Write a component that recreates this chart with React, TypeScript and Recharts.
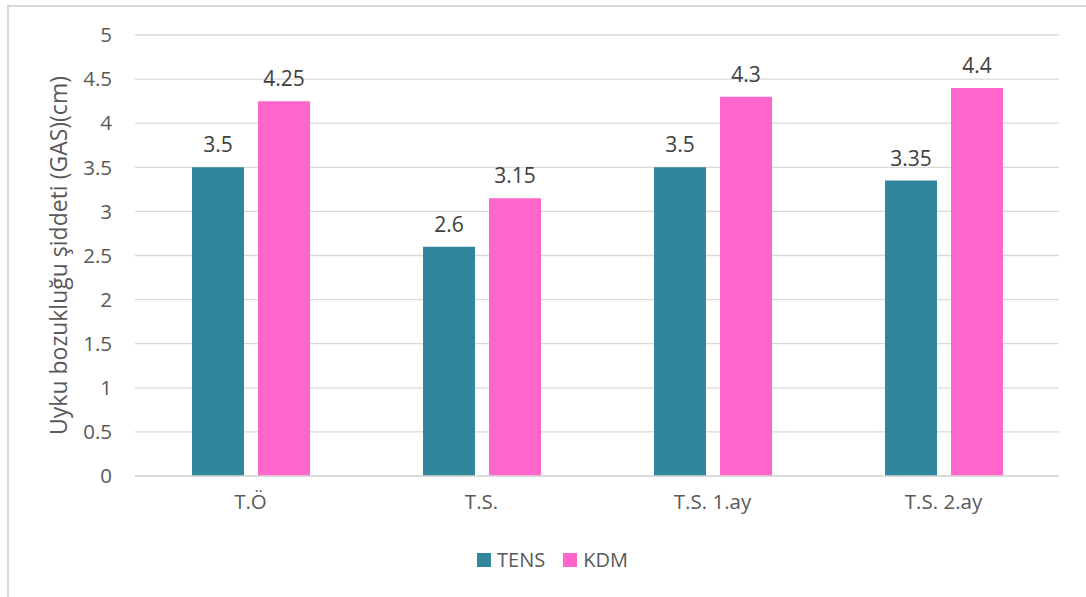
import { Bar, BarChart, CartesianGrid, LabelList, XAxis, YAxis } from 'recharts'

const categories = ['T.Ö', 'T.S.', 'T.S. 1.ay', 'T.S. 2.ay']
const tensValues = [3.5, 2.6, 3.5, 3.35]
const kdmValues = [4.25, 3.15, 4.3, 4.4]
const yTicks = [0, 0.5, 1, 1.5, 2, 2.5, 3, 3.5, 4, 4.5, 5]

const TENS_COLOR = '#31859C'
const KDM_COLOR = '#FF66CC'
const FONT = '"Open Sans", sans-serif'

const data = categories.map((name, i) => ({
  name,
  tens: tensValues[i],
  kdm: kdmValues[i],
}))

function YLabel({ viewBox }: { viewBox?: { x: number; y: number; width: number; height: number } }) {
  if (!viewBox) return null
  const x = viewBox.x + 58
  const y = viewBox.y + viewBox.height / 2
  return (
    <text
      x={x}
      y={y}
      transform={`rotate(-90 ${x} ${y})`}
      textAnchor="middle"
      dominantBaseline="central"
      fill="#595959"
      fontSize={23}
      fontFamily={FONT}
    >
      Uyku bozukluğu şiddeti (GAS)(cm)
    </text>
  )
}

export default function App() {
  return (
    <div style={{ position: 'absolute', left: 0, top: 0, width: 1086, height: 597, background: '#fff' }}>
      <div
        style={{
          position: 'absolute',
          left: 7,
          top: 5,
          right: -20,
          bottom: -20,
          borderTop: '2px solid #D9D9D9',
          borderLeft: '2px solid #D9D9D9',
        }}
      />
      <div style={{ position: 'absolute', left: 0, top: 0 }}>
        <BarChart
          width={1086}
          height={597}
          data={data}
          margin={{ top: 35, right: 27, bottom: 0, left: 0 }}
          barSize={52}
          barGap={14}
        >
          <CartesianGrid vertical={false} stroke="#D9D9D9" strokeWidth={1.3} />
          <XAxis
            dataKey="name"
            height={121}
            tickLine={false}
            tickSize={0}
            tickMargin={18}
            axisLine={{ stroke: '#D9D9D9', strokeWidth: 1.5 }}
            tick={{ fill: '#595959', fontSize: 20.5, fontFamily: FONT }}
          />
          <YAxis
            width={135}
            domain={[0, 5]}
            ticks={yTicks}
            interval={0}
            axisLine={false}
            tickLine={false}
            tickSize={0}
            tickMargin={23}
            tick={{ fill: '#595959', fontSize: 20.5, fontFamily: FONT }}
            label={<YLabel />}
          />
          <Bar dataKey="tens" name="TENS" fill={TENS_COLOR} isAnimationActive={false}>
            <LabelList dataKey="tens" position="top" offset={15} fill="#404040" fontSize={21} fontFamily={FONT} />
          </Bar>
          <Bar dataKey="kdm" name="KDM" fill={KDM_COLOR} isAnimationActive={false}>
            <LabelList dataKey="kdm" position="top" offset={15} fill="#404040" fontSize={21} fontFamily={FONT} />
          </Bar>
        </BarChart>
      </div>
      <div
        style={{
          position: 'absolute',
          left: 477,
          top: 546,
          display: 'flex',
          alignItems: 'center',
          fontFamily: FONT,
          fontSize: 20,
          color: '#595959',
        }}
      >
        <span style={{ width: 14, height: 14, background: TENS_COLOR, display: 'inline-block', marginRight: 6 }} />
        <span style={{ marginRight: 18 }}>TENS</span>
        <span style={{ width: 14, height: 14, background: KDM_COLOR, display: 'inline-block', marginRight: 6 }} />
        <span>KDM</span>
      </div>
    </div>
  )
}
